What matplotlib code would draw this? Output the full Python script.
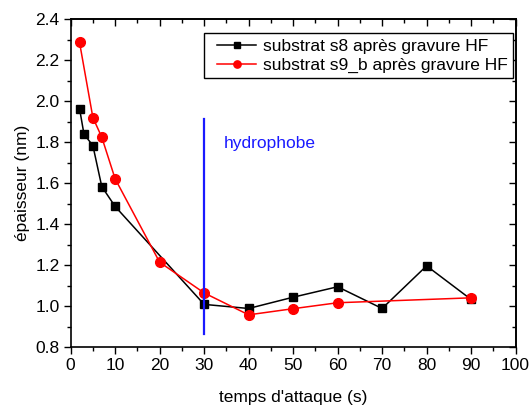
import numpy as np
import matplotlib.pyplot as plt
from matplotlib.ticker import MultipleLocator
from matplotlib.lines import Line2D
from matplotlib.legend_handler import HandlerLine2D

plt.rcParams['font.family'] = ['Liberation Sans', 'DejaVu Sans']
plt.rcParams['font.size'] = 12.5

# epaisseur mesuree en fonction du temps d'attaque HF
t_s8 = [2, 3, 5, 7, 10, 30, 40, 50, 60, 70, 80, 90]
ep_s8 = [1.964, 1.839, 1.783, 1.583, 1.486, 1.008, 0.988, 1.043, 1.094, 0.988, 1.196, 1.032]

t_s9b = [2, 5, 7, 10, 20, 30, 40, 50, 60, 90]
ep_s9b = [2.287, 1.920, 1.824, 1.621, 1.214, 1.064, 0.957, 0.987, 1.016, 1.040]

# limite hydrophobe
t_hydro = 30
ep_hydro = [0.865, 1.912]

fig = plt.figure(figsize=(5.31, 4.08), dpi=100)
ax = fig.add_axes([0.133, 0.1495, 0.838, 0.8035])

ax.plot(t_s8, ep_s8, color='black', marker='s', markersize=6, linewidth=1.1,
        label='substrat s8 après gravure HF')
ax.plot(t_s9b, ep_s9b, color='red', marker='o', markersize=7, linewidth=1.1,
        label='substrat s9_b après gravure HF')
ax.plot([t_hydro, t_hydro], ep_hydro, color='#1a1aff', linewidth=1.6)
ax.text(34.4, 1.795, 'hydrophobe', color='#1a1aff', va='center', ha='left')

ax.set_xlim(0, 100)
ax.set_ylim(0.8, 2.4)
ax.xaxis.set_major_locator(MultipleLocator(10))
ax.xaxis.set_minor_locator(MultipleLocator(5))
ax.yaxis.set_major_locator(MultipleLocator(0.2))
ax.yaxis.set_minor_locator(MultipleLocator(0.1))
ax.yaxis.set_major_formatter(plt.FormatStrFormatter('%.1f'))
ax.tick_params(which='major', direction='out', length=5, width=1, pad=3)
ax.tick_params(which='minor', direction='out', length=3, width=1)

# axes du haut et de droite : graduations vers l'interieur, sans etiquettes
top = ax.secondary_xaxis('top')
top.xaxis.set_major_locator(MultipleLocator(10))
top.xaxis.set_minor_locator(MultipleLocator(5))
top.tick_params(which='major', direction='in', length=5, width=1, labeltop=False)
top.tick_params(which='minor', direction='in', length=3, width=1)
right = ax.secondary_yaxis('right')
right.yaxis.set_major_locator(MultipleLocator(0.2))
right.yaxis.set_minor_locator(MultipleLocator(0.1))
right.tick_params(which='major', direction='in', length=5, width=1, labelright=False)
right.tick_params(which='minor', direction='in', length=3, width=1)

for sp in list(ax.spines.values()) + [top.spines['top'], right.spines['right']]:
    sp.set_linewidth(1.2)

ax.set_xlabel("temps d'attaque (s)", labelpad=12)
ax.set_ylabel('épaisseur (nm)', labelpad=4)

leg = ax.legend(loc='upper right', bbox_to_anchor=(0.995, 0.957), fancybox=False,
                edgecolor='black', framealpha=1, markerscale=0.75,
                handlelength=2.75, handletextpad=0.4, borderpad=0.3,
                labelspacing=0.25, borderaxespad=0,
                handler_map={Line2D: HandlerLine2D(xpad=0.45)})
leg.get_frame().set_linewidth(1.0)

fig.savefig('out.png', dpi=100)
